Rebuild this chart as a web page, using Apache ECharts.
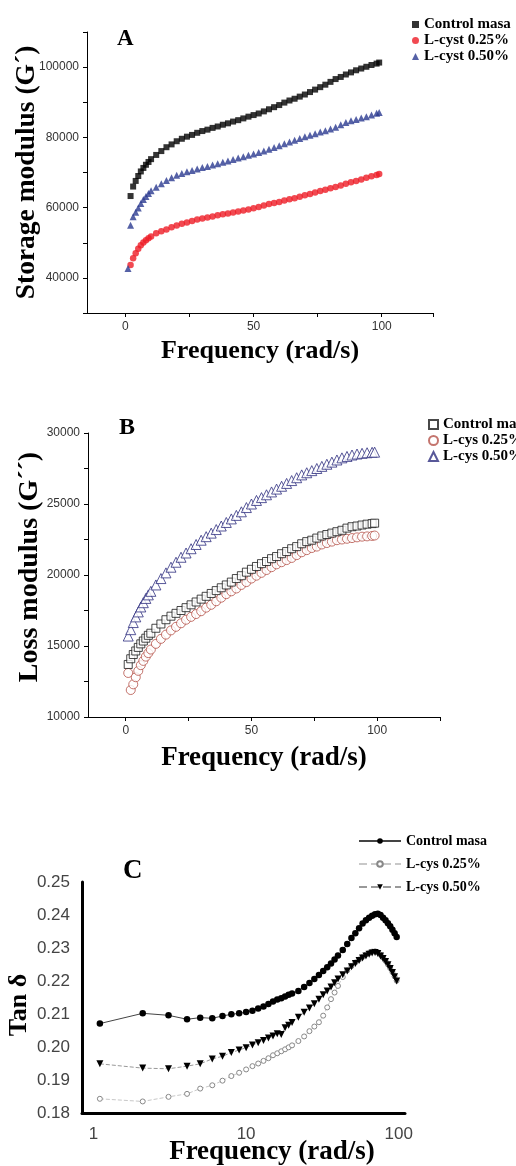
<!DOCTYPE html>
<html>
<head>
<meta charset="utf-8">
<script src="https://cdn.jsdelivr.net/npm/echarts@6/dist/echarts.min.js"></script>
<style>
    html, body { margin: 0; padding: 0; background: #fff; }
    .panel { position: absolute; left: 0; width: 516px; }
</style>
</head>
<body>
<div id="chartA" class="panel" style="top:0;height:390px"></div>
<div id="chartB" class="panel" style="top:390px;height:390px"></div>
<div id="chartC" class="panel" style="top:780px;height:386px"></div>
<script>
const SERIF = "'Liberation Serif', 'Times New Roman', serif";
const SANS = "'Liberation Sans', Arial, sans-serif";

// frequency sweep (rad/s) shared by panels A and B
const freq = [1, 2, 3, 4, 5, 6, 7, 8, 9, 10, 12, 14, 16, 18, 20, 22, 24, 26, 28, 30,
    32, 34, 36, 38, 40, 42, 44, 46, 48, 50, 52, 54, 56, 58, 60, 62, 64, 66, 68, 70,
    72, 74, 76, 78, 80, 82, 84, 86, 88, 90, 92, 94, 96, 98, 99];

// A - storage modulus G'
const storageControl = [null, 63300, 66000, 67600, 69000, 70300, 71300, 72200, 73000, 73800,
    75000, 76100, 77200, 78000, 78900, 79600, 80200, 80700, 81300, 81800,
    82200, 82700, 83100, 83600, 84000, 84500, 84900, 85400, 85900, 86350,
    86800, 87400, 88000, 88600, 89200, 89900, 90500, 91000, 91600, 92200,
    92900, 93600, 94300, 95000, 95800, 96600, 97200, 97900, 98500, 99100,
    99600, 100100, 100600, 101000, 101300];
const storageCys25 = [null, 43700, 45600, 47000, 48300, 49300, 50100, 50700, 51300, 51800,
    52700, 53300, 53800, 54400, 54900, 55400, 55800, 56200, 56600, 56900,
    57200, 57500, 57800, 58100, 58300, 58600, 58900, 59200, 59500, 59800,
    60200, 60600, 61000, 61300, 61600, 62000, 62400, 62700, 63100, 63500,
    63900, 64300, 64700, 65100, 65500, 65900, 66300, 66800, 67200, 67600,
    68000, 68500, 68900, 69300, 69600];
const storageCys50 = [42700, 55000, 57400, 58700, 59900, 61200, 62300, 63200, 64000, 64800,
    65800, 66800, 67700, 68500, 69200, 69700, 70200, 70600, 71000, 71400,
    71700, 72100, 72500, 72900, 73300, 73700, 74100, 74500, 74900, 75300,
    75700, 76100, 76600, 77100, 77600, 78200, 78700, 79200, 79700, 80200,
    80600, 81000, 81500, 81900, 82400, 82900, 83600, 84200, 84700, 85100,
    85500, 85900, 86400, 86900, 87100];

// B - loss modulus G''
const lossControl = [13700, 14100, 14400, 14650, 14900, 15150, 15350, 15550, 15750, 15900,
    16250, 16550, 16850, 17100, 17300, 17500, 17700, 17900, 18100, 18300,
    18500, 18700, 18900, 19100, 19300, 19500, 19750, 19950, 20200, 20400,
    20600, 20800, 20950, 21150, 21300, 21500, 21650, 21850, 22000, 22200,
    22350, 22450, 22600, 22750, 22850, 22950, 23050, 23150, 23300, 23400,
    23450, 23520, 23580, 23620, 23650];
const lossCys25 = [13100, 11900, 12300, 12800, 13250, 13650, 13950, 14250, 14500, 14750,
    15150, 15500, 15800, 16100, 16350, 16600, 16850, 17050, 17250, 17450,
    17700, 17900, 18150, 18400, 18650, 18850, 19050, 19300, 19500, 19750,
    19950, 20150, 20350, 20550, 20750, 20900, 21050, 21200, 21400, 21600,
    21750, 21900, 22000, 22150, 22250, 22350, 22450, 22500, 22550, 22600,
    22650, 22700, 22720, 22750, 22780];
const lossCys50 = [15700, 16150, 16650, 17050, 17400, 17750, 18050, 18350, 18600, 18850,
    19300, 19750, 20150, 20550, 20900, 21250, 21550, 21850, 22150, 22450,
    22700, 22950, 23200, 23450, 23700, 23950, 24200, 24450, 24750, 25000,
    25250, 25450, 25650, 25850, 26050, 26250, 26450, 26650, 26850, 27050,
    27200, 27350, 27500, 27650, 27800, 27950, 28100, 28250, 28350, 28450,
    28520, 28570, 28610, 28640, 28650];

// C - tan delta (log frequency axis)
const tanFreq = [1.1, 2.1, 3.1, 4.1, 5, 6, 7, 8, 9, 10, 11, 12, 13, 14, 15, 16, 17, 18, 19, 20,
    22, 24, 26, 28, 30, 32, 34, 36, 38, 40, 43, 46, 49, 52, 55, 58, 61, 64, 67, 70,
    73, 76, 79, 82, 85, 88, 91, 94, 97];
const tanControl = [0.2071, 0.2102, 0.2096, 0.2084, 0.2089, 0.2087, 0.2094, 0.2099, 0.2102, 0.2106,
    0.2110, 0.2117, 0.2123, 0.2130, 0.2138, 0.2144, 0.2148, 0.2153, 0.2158, 0.2162,
    0.2170, 0.2182, 0.2194, 0.2206, 0.2218, 0.2230, 0.2242, 0.2253, 0.2265, 0.2277,
    0.2294, 0.2312, 0.2330, 0.2345, 0.2360, 0.2374, 0.2384, 0.2392, 0.2398, 0.2402,
    0.2404, 0.2400, 0.2392, 0.2384, 0.2375, 0.2366, 0.2355, 0.2345, 0.2333];
const tanCys25 = [0.1843, 0.1835, 0.1849, 0.1858, 0.1874, 0.1884, 0.1898, 0.1912, 0.1922, 0.1932,
    0.1942, 0.1950, 0.1958, 0.1966, 0.1975, 0.1981, 0.1987, 0.1993, 0.1999, 0.2005,
    0.2018, 0.2032, 0.2048, 0.2062, 0.2075, 0.2095, 0.2120, 0.2145, 0.2165, 0.2185,
    0.2212, 0.2232, 0.2245, 0.2256, 0.2265, 0.2273, 0.2280, 0.2285, 0.2289, 0.2290,
    0.2287, 0.2280, 0.2271, 0.2261, 0.2250, 0.2239, 0.2227, 0.2214, 0.2201];
const tanCys50 = [0.1949, 0.1936, 0.1934, 0.1942, 0.1949, 0.1964, 0.1972, 0.1983, 0.1991, 0.1998,
    0.2006, 0.2013, 0.2020, 0.2027, 0.2033, 0.2040, 0.2038, 0.2058, 0.2066, 0.2074,
    0.2090, 0.2105, 0.2118, 0.2131, 0.2145, 0.2158, 0.2170, 0.2182, 0.2195, 0.2206,
    0.2219, 0.2230, 0.2243, 0.2253, 0.2262, 0.2270, 0.2276, 0.2281, 0.2285, 0.2286,
    0.2283, 0.2276, 0.2268, 0.2259, 0.2249, 0.2238, 0.2226, 0.2213, 0.2200];

// ticks and labels
const freqTicksA = [0, 25, 50, 75, 100, 120];
const freqTicksB = [0, 25, 50, 75, 100, 125];
const freqLabels = [0, 50, 100];
const storageTicks = [30000, 40000, 50000, 60000, 70000, 80000, 90000, 100000, 110000];
const storageLabels = [40000, 60000, 80000, 100000];
const lossTicks = [10000, 12500, 15000, 17500, 20000, 22500, 25000, 27500, 30000];
const lossLabels = [10000, 15000, 20000, 25000, 30000];
const tanLabels = [0.18, 0.19, 0.20, 0.21, 0.22, 0.23, 0.24, 0.25];
const tanFreqLabels = [1, 10, 100];

function pairs(xs, ys) {
    return xs.map((x, i) => [x, ys[i]]).filter(p => p[1] != null);
}

function panelTitle(text, left, top, size) {
    return {
        text: text, left: left, top: top, padding: 0,
        textStyle: {fontFamily: SERIF, fontWeight: "bold", fontSize: size, color: "#000"}
    };
}

function plainAxis(min, max, ticks, labels, name, nameGap, nameSize, extra) {
    let axis = {
        type: "value",
        min: min,
        max: max,
        axisLine: {onZero: false, lineStyle: {color: "#000", width: 1}},
        axisTick: {show: true, inside: false, length: 4, customValues: ticks, lineStyle: {color: "#000"}},
        axisLabel: {
            customValues: labels, fontFamily: SANS, fontSize: 12, color: "#333", margin: 8,
            formatter: function (value) {
                return String(value);
            }
        },
        splitLine: {show: false},
        name: name,
        nameLocation: "middle",
        nameGap: nameGap,
        nameMoveOverlap: false,
        nameTextStyle: {fontFamily: SERIF, fontWeight: "bold", fontSize: nameSize, color: "#000"}
    };
    return Object.assign(axis, extra || {});
}

function legendStyle(size) {
    return {fontFamily: SERIF, fontWeight: "bold", fontSize: size, color: "#000"};
}

function paintA() {
    let chart = echarts.init(document.getElementById("chartA"));
    chart.setOption({
        animation: false,
        backgroundColor: "#fff",
        title: panelTitle("A", 117, 28, 23),
        legend: {
            orient: "vertical", left: 407, top: 12, itemGap: 1, itemWidth: 7, itemHeight: 7,
            textStyle: legendStyle(15),
            data: ["Control masa", "L-cyst 0.25%", "L-cyst 0.50%"]
        },
        grid: {left: 87, top: 32, width: 346, height: 281, outerBoundsMode: "none"},
        xAxis: plainAxis(-15, 120, freqTicksA, freqLabels, "Frequency (rad/s)", 25, 26),
        yAxis: plainAxis(30000, 110000, storageTicks, storageLabels, "Storage modulus (G´)", 46, 27.5),
        series: [
            {name: "L-cyst 0.25%", type: "scatter", symbol: "circle", symbolSize: 6.5,
                itemStyle: {color: "#ee1c25"}, data: pairs(freq, storageCys25)},
            {name: "L-cyst 0.50%", type: "scatter", symbol: "triangle", symbolSize: 7,
                itemStyle: {color: "#2b3990"}, data: pairs(freq, storageCys50)},
            {name: "Control masa", type: "scatter", symbol: "rect", symbolSize: 6,
                itemStyle: {color: "#000"}, data: pairs(freq, storageControl)}
        ]
    });
}

function paintB() {
    let chart = echarts.init(document.getElementById("chartB"));
    chart.setOption({
        animation: false,
        backgroundColor: "#fff",
        title: panelTitle("B", 119, 26, 24),
        legend: {
            orient: "vertical", left: 423, top: 22, itemGap: 1, itemWidth: 9, itemHeight: 9,
            textStyle: legendStyle(15),
            data: ["Control masa", "L-cys 0.25%", "L-cys 0.50%"]
        },
        grid: {left: 88, top: 43, width: 352, height: 284, outerBoundsMode: "none"},
        xAxis: plainAxis(-15, 125, freqTicksB, freqLabels, "Frequency (rad/s)", 28, 27),
        yAxis: plainAxis(10000, 30000, lossTicks, lossLabels, "Loss modulus (G´´)", 44, 28,
            {nameTextStyle: {fontFamily: SERIF, fontWeight: "bold", fontSize: 28, color: "#000", padding: [0, 0, 0, 16]}}),
        series: [
            {name: "L-cys 0.25%", type: "scatter", symbol: "circle", symbolSize: 9,
                itemStyle: {color: "#fff", borderColor: "#b5524a", borderWidth: 1}, data: pairs(freq, lossCys25)},
            {name: "Control masa", type: "scatter", symbol: "rect", symbolSize: 8,
                itemStyle: {color: "#fff", borderColor: "#1a1a1a", borderWidth: 1}, data: pairs(freq, lossControl)},
            {name: "L-cys 0.50%", type: "scatter", symbol: "triangle", symbolSize: 10,
                itemStyle: {color: "#fff", borderColor: "#2e2e80", borderWidth: 1}, data: pairs(freq, lossCys50)}
        ]
    });
}

function paintC() {
    let chart = echarts.init(document.getElementById("chartC"));
    chart.setOption({
        animation: false,
        backgroundColor: "#fff",
        title: panelTitle("C", 123, 78, 27),
        legend: {
            orient: "vertical", left: 353, top: 49, itemGap: 9, itemWidth: 42, itemHeight: 7,
            textStyle: legendStyle(14),
            data: ["Control masa", "L-cys 0.25%", "L-cys 0.50%"]
        },
        grid: {left: 82, top: 102, width: 323, height: 231, outerBoundsMode: "none"},
        xAxis: {
            type: "log",
            logBase: 10,
            min: 0.84,
            max: 110,
            axisLine: {onZero: false, lineStyle: {color: "#000", width: 3}},
            axisTick: {show: false},
            axisLabel: {
                fontFamily: SANS, fontSize: 17, color: "#444", margin: 13,
                formatter: function (value) {
                    let r = Math.round(value);
                    return tanFreqLabels.indexOf(r) >= 0 && Math.abs(value - r) < 1e-6 ? String(r) : "";
                }
            },
            splitLine: {show: false},
            minorSplitLine: {show: false},
            name: "Frequency (rad/s)",
            nameLocation: "middle",
            nameGap: 26,
            nameMoveOverlap: false,
            nameTextStyle: {fontFamily: SERIF, fontWeight: "bold", fontSize: 27, color: "#000", padding: [0, 0, 0, 57]}
        },
        yAxis: {
            type: "value",
            min: 0.18,
            max: 0.25,
            axisLine: {onZero: false, lineStyle: {color: "#000", width: 3}},
            axisTick: {show: false},
            axisLabel: {
                customValues: tanLabels, fontFamily: SANS, fontSize: 17, color: "#444", margin: 12,
                formatter: function (value) {
                    return value.toFixed(2);
                }
            },
            splitLine: {show: false},
            name: "Tan δ",
            nameLocation: "middle",
            nameGap: 50,
            nameMoveOverlap: false,
            nameTextStyle: {fontFamily: SERIF, fontWeight: "bold", fontSize: 26, color: "#000", padding: [0, 15, 0, 0]}
        },
        series: [
            {name: "L-cys 0.25%", type: "line", symbol: "circle", symbolSize: 5,
                itemStyle: {color: "#fff", borderColor: "#888", borderWidth: 1},
                lineStyle: {color: "#c8c8c8", width: 1, type: "dashed"},
                data: pairs(tanFreq, tanCys25)},
            {name: "L-cys 0.50%", type: "line", symbol: "triangle", symbolRotate: 180, symbolSize: 7,
                itemStyle: {color: "#000"},
                lineStyle: {color: "#999", width: 1, type: "dashed"},
                data: pairs(tanFreq, tanCys50)},
            {name: "Control masa", type: "line", symbol: "circle", symbolSize: 6.5,
                itemStyle: {color: "#000"},
                lineStyle: {color: "#444", width: 1},
                data: pairs(tanFreq, tanControl)}
        ]
    });
}

paintA();
paintB();
paintC();
</script>
</body>
</html>
